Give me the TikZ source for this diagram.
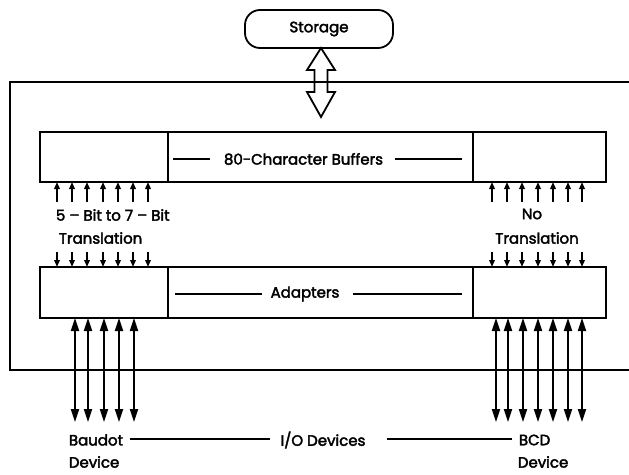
\documentclass[tikz,border=0pt]{standalone}
\usepackage{fontspec}
\setmainfont{Poppins}[FakeBold=2.5]
\usetikzlibrary{arrows.meta}
\tikzset{
  box/.style={draw, inner sep=0pt, outer sep=0pt, anchor=north west},
  lbl/.style={inner sep=0pt, font=\fontsize{15}{17}\selectfont},
  sarrow/.style={-{Triangle[length=7pt,width=5.5pt]}},
  darrow/.style={{Triangle[length=13pt,width=8pt]}-{Triangle[length=13pt,width=8pt]}},
}
\begin{document}
\begin{tikzpicture}[x=1pt,y=-1pt, line width=1.8pt]
\useasboundingbox (0,0) rectangle (629,474);
% outer frame
\draw (629,82) -- (10,82) -- (10,370) -- (629,370);
% storage
\node[draw, rounded corners=15pt, minimum width=148pt, minimum height=38pt, inner sep=0pt, lbl] (stor) at (319,29) {Storage};
% hollow double arrow
\draw[line join=miter, fill=white] (321,48) -- (335,70) -- (327.5,70) -- (327.5,92) -- (335,92) -- (321,117) -- (307,92) -- (314.5,92) -- (314.5,70) -- (307,70) -- cycle;
\draw (314.5,82) -- (327.5,82);
% buffers
\node[box, minimum width=128pt, minimum height=50pt] (bufL) at (40,132) {};
\node[box, minimum width=305pt, minimum height=50pt] (bufM) at (168,132) {};
\node[box, minimum width=133pt, minimum height=50pt] (bufR) at (473,132) {};
\node[lbl] (buftxt) at (303.5,159) {80-Character Buffers};
\draw (173,159) -- (210,159);
\draw (395,159) -- (462,159);
% adapters
\node[box, minimum width=128pt, minimum height=51pt] (adL) at (40,267) {};
\node[box, minimum width=305pt, minimum height=51pt] (adM) at (168,267) {};
\node[box, minimum width=133pt, minimum height=51pt] (adR) at (473,267) {};
\node[lbl] (adtxt) at (305,294) {Adapters};
\draw (175,294) -- (262,294);
\draw (353,294) -- (462,294);
% small arrows
\foreach \x in {57,72,87,103,118,133,148}{
  \draw[sarrow] (\x,202) -- (\x,182);
  \draw[sarrow] (\x,252) -- (\x,267);
}
\foreach \x in {492,507,522,538,553,568,582}{
  \draw[sarrow] (\x,202) -- (\x,182);
  \draw[sarrow] (\x,252) -- (\x,267);
}
% texts translation
\node[lbl, anchor=west] (t57) at (55,215) {5 – Bit to 7 – Bit};
\node[lbl, anchor=west] (tr1) at (58,238) {Translation};
\node[lbl] (no) at (532,214) {No};
\node[lbl] (tr2) at (537,238) {Translation};
% long double arrows
\foreach \x in {75,88,104,119,134}{
  \draw[darrow] (\x,318) -- (\x,422);
}
\foreach \x in {496,508,523,538,553,568,582}{
  \draw[darrow] (\x,318) -- (\x,422);
}
% bottom labels
\node[lbl, anchor=west] (baud) at (68,440) {Baudot};
\node[lbl, anchor=west] (dev1) at (68,462) {Device};
\node[lbl] (io) at (323,440) {I/O Devices};
\draw (130,439) -- (270,439);
\draw (387,439) -- (512,439);
\node[lbl, anchor=west] (bcd) at (518,440) {BCD};
\node[lbl, anchor=west] (dev2) at (517,462) {Device};
\end{tikzpicture}
\end{document}
